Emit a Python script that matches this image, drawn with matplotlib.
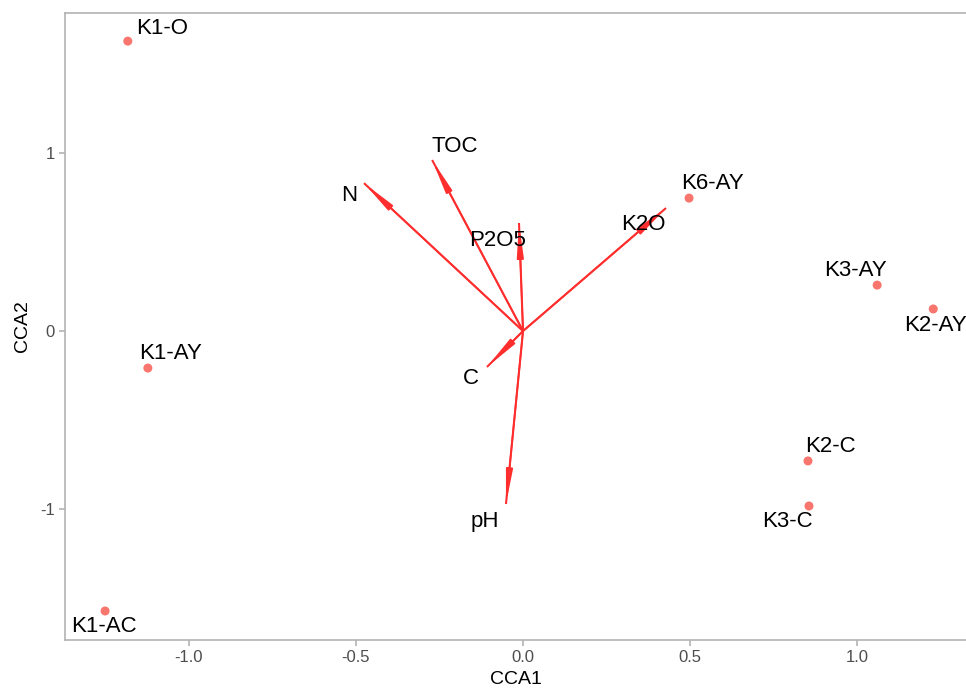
import numpy as np
import matplotlib
matplotlib.use("Agg")
import matplotlib.pyplot as plt

plt.rcParams['font.family'] = ['Liberation Sans', 'DejaVu Sans']

# sample scores
sites = ['K1-O', 'K1-AY', 'K1-AC', 'K6-AY', 'K3-AY', 'K2-AY', 'K2-C', 'K3-C']
site_x = [-1.183, -1.123, -1.251, 0.497, 1.060, 1.228, 0.853, 0.856]
site_y = [1.629, -0.208, -1.573, 0.747, 0.258, 0.124, -0.730, -0.983]

# environmental vectors
envs = ['N', 'TOC', 'P2O5', 'K2O', 'C', 'pH']
env_x = [-0.476, -0.272, -0.012, 0.428, -0.108, -0.051]
env_y = [0.831, 0.961, 0.607, 0.691, -0.202, -0.972]

# label offsets (pixels, y up) - repel-like placement
site_off = [(34, 13), (23, 15), (-1, -16), (23, 15), (-22, 15), (2, -17), (22, 14), (-22, -16)]
env_off = [(-15, -12), (23, 14), (-21, -17), (-23, -16), (-16, -12), (-21, -17)]

arrow_col = '#FF2E2E'

fig = plt.figure(figsize=(9.66, 6.89), dpi=100)
ax = fig.add_axes([65 / 966, 49 / 689, 1 - 65 / 966, 627 / 689])

for x, y in zip(env_x, env_y):
    # full shaft to the tip, then a long thin head on top
    ax.plot([0, x], [0, y], color=arrow_col, lw=1.5, solid_capstyle='butt')
    ax.annotate('', xy=(x, y), xytext=(0, 0),
                arrowprops=dict(arrowstyle='-|>,head_length=2.0,head_width=0.2',
                                color=arrow_col, lw=1.2,
                                shrinkA=0, shrinkB=0, mutation_scale=10))

ax.scatter(site_x, site_y, s=42, color='#F8766D', edgecolors='none', zorder=3)

for name, x, y, (dx, dy) in zip(sites, site_x, site_y, site_off):
    ax.annotate(name, (x, y), xytext=(dx * 0.72, dy * 0.72), textcoords='offset points',
                ha='center', va='center', fontsize=16, color='black')

for name, x, y, (dx, dy) in zip(envs, env_x, env_y, env_off):
    ax.annotate(name, (x, y), xytext=(dx * 0.72, dy * 0.72), textcoords='offset points',
                ha='center', va='center', fontsize=16, color='black')

ax.set_xlim(-1.371, 1.326)
ax.set_ylim(-1.736, 1.787)
ax.set_xticks([-1.0, -0.5, 0.0, 0.5, 1.0])
ax.set_xticklabels(['-1.0', '-0.5', '0.0', '0.5', '1.0'])
ax.set_yticks([-1, 0, 1])
ax.set_yticklabels(['-1', '0', '1'])

for side in ['top', 'left', 'bottom']:
    ax.spines[side].set_color('#B3B3B3')
    ax.spines[side].set_linewidth(1.2)
ax.spines['right'].set_visible(False)
ax.tick_params(colors='#B3B3B3', labelcolor='#4D4D4D', labelsize=12, length=4, width=1.2)

ax.set_xlabel('CCA1', fontsize=14, labelpad=4)
ax.set_ylabel('CCA2', fontsize=14, labelpad=6)

fig.savefig('out.png', dpi=100)
